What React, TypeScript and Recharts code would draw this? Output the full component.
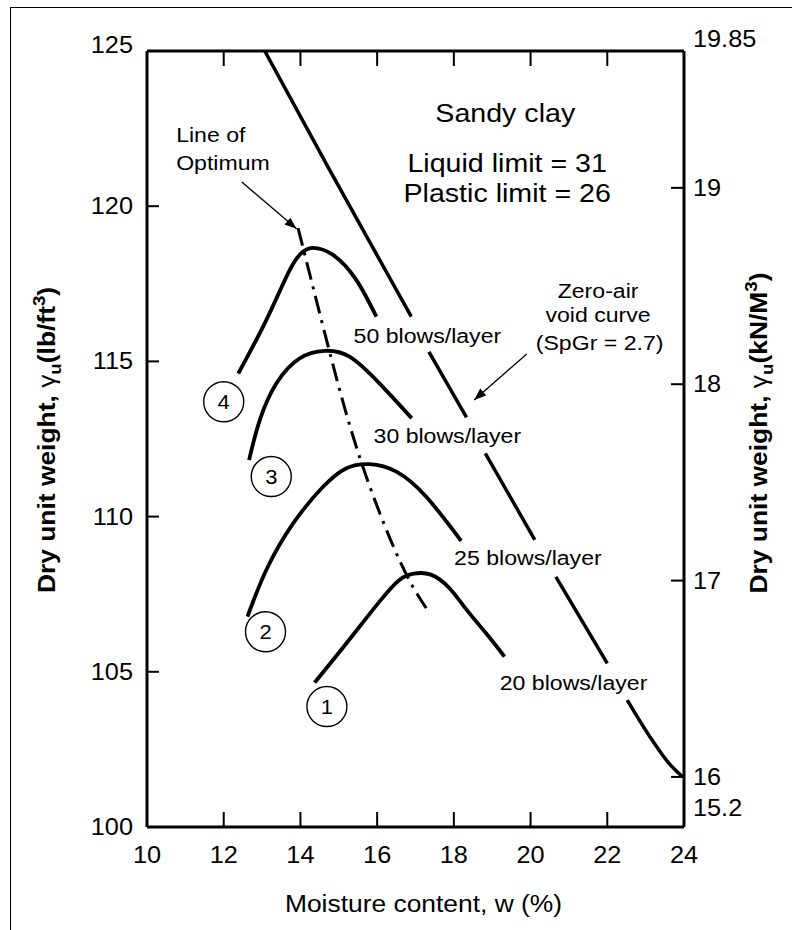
import React from 'react';
import { ComposedChart, Line, Scatter, XAxis, YAxis } from 'recharts';

const FONT = '"Liberation Sans", Arial, Helvetica, sans-serif';
const SX = 1.1;

// ---- axes ----
const xTicks = [10, 12, 14, 16, 18, 20, 22, 24];
const xInnerTicks = [12, 14, 16, 18, 20, 22];
const yTicks = [100, 105, 110, 115, 120, 125];
const KN_MIN = 15.745;
const KN_MAX = 19.697;
const knTicks = [KN_MIN, 16, 17, 18, 19, KN_MAX];
const knEndLabels = { min: '15.2', max: '19.85' };

// ---- compaction curves (w %, dry unit weight lb/ft3) ----
const curve50 = [
  { w: 12.38, lb: 114.61 }, { w: 13.11, lb: 116.33 }, { w: 13.72, lb: 117.94 },
  { w: 14.05, lb: 118.52 }, { w: 14.33, lb: 118.66 }, { w: 14.85, lb: 118.43 },
  { w: 15.46, lb: 117.62 }, { w: 15.98, lb: 116.44 },
];
const curve30 = [
  { w: 12.66, lb: 111.82 }, { w: 12.94, lb: 113.11 }, { w: 13.37, lb: 114.29 },
  { w: 13.98, lb: 115.1 }, { w: 14.63, lb: 115.34 }, { w: 15.28, lb: 115.15 },
  { w: 16.06, lb: 114.29 }, { w: 16.9, lb: 113.17 },
];
const curve25 = [
  { w: 12.62, lb: 106.78 }, { w: 13.11, lb: 108.28 }, { w: 13.81, lb: 109.78 },
  { w: 14.59, lb: 110.96 }, { w: 15.2, lb: 111.56 }, { w: 15.8, lb: 111.69 },
  { w: 16.5, lb: 111.45 }, { w: 17.28, lb: 110.64 }, { w: 18.19, lb: 109.22 },
];
const curve20 = [
  { w: 14.37, lb: 104.65 }, { w: 15.2, lb: 105.92 }, { w: 16.06, lb: 107.26 },
  { w: 16.58, lb: 107.96 }, { w: 16.95, lb: 108.16 }, { w: 17.4, lb: 108.13 },
  { w: 17.88, lb: 107.7 }, { w: 18.32, lb: 107.02 }, { w: 18.84, lb: 106.24 },
  { w: 19.32, lb: 105.49 },
];
const lineOfOptimum = [
  { w: 13.94, lb: 119.29 }, { w: 14.68, lb: 115.69 }, { w: 15.54, lb: 111.93 },
  { w: 16.58, lb: 108.6 }, { w: 17.28, lb: 107.05 },
];
const zeroAirVoid = [
  { w: 13.07, lb: 125 }, { w: 14.76, lb: 121.17 }, { w: 16.89, lb: 116.44 },
  { w: 17.1, lb: null },
  { w: 17.35, lb: 115.31 }, { w: 18.33, lb: 113.2 },
  { w: 18.6, lb: null },
  { w: 18.82, lb: 112.04 }, { w: 20.11, lb: 109.25 },
  { w: 20.4, lb: null },
  { w: 20.66, lb: 108.06 }, { w: 22.0, lb: 105.27 },
  { w: 22.3, lb: null },
  { w: 22.52, lb: 104.09 }, { w: 23.17, lb: 102.8 }, { w: 23.61, lb: 102.05 },
  { w: 23.97, lb: 101.61 },
];

// ---- annotations ----
const arrowOptimum = [{ w: 12.47, lb: 120.78 }, { w: 13.9, lb: 119.27 }];
const arrowZav = [{ w: 19.9, lb: 115.24 }, { w: 18.53, lb: 113.76 }];
const circleLabels = [
  { n: '1', w: 14.69, lb: 103.88 },
  { n: '2', w: 13.09, lb: 106.29 },
  { n: '3', w: 13.24, lb: 111.29 },
  { n: '4', w: 12.0, lb: 113.7 },
];
const soilNotes = [
  { text: 'Sandy clay', w: 19.34, lb: 122.72 },
  { text: 'Liquid limit = 31', w: 19.39, lb: 121.11 },
  { text: 'Plastic limit = 26', w: 19.39, lb: 120.15 },
];
const blowNotes = [
  { text: '50 blows/layer', w: 17.31, lb: 115.59 },
  { text: '30 blows/layer', w: 17.83, lb: 112.37 },
  { text: '25 blows/layer', w: 19.93, lb: 108.44 },
  { text: '20 blows/layer', w: 21.12, lb: 104.41 },
];
const optimumNotes = [
  { text: 'Line of', w: 10.76, lb: 122.07 },
  { text: 'Optimum', w: 10.76, lb: 121.17 },
];
const zavNotes = [
  { text: 'Zero-air', w: 21.76, lb: 117.04 },
  { text: 'void curve', w: 21.76, lb: 116.27 },
  { text: '(SpGr = 2.7)', w: 21.8, lb: 115.37 },
];

const xTitle = 'Moisture content, w (%)';

function SText(props: any) {
  const { x, y, size, anchor = 'middle', weight = 'normal', rotate = 0, children } = props;
  return (
    <text
      transform={`translate(${x},${y})${rotate ? ` rotate(${rotate})` : ''} scale(${SX},1)`}
      textAnchor={anchor}
      fontSize={size}
      fontFamily={FONT}
      fontWeight={weight}
      fill="#000"
    >
      {children}
    </text>
  );
}

const LeftTick = (p: any) => {
  const v = p.payload.value;
  const inner = v !== 100 && v !== 125;
  const dy = v === 125 ? -6 : 0;
  return (
    <g>
      {inner && <line x1={p.x} x2={p.x + 12} y1={p.y} y2={p.y} stroke="#000" strokeWidth={2} />}
      <SText x={p.x - 14} y={p.y + dy + 8} size={23} anchor="end">{v}</SText>
    </g>
  );
};

const RightTick = (p: any) => {
  const v = p.payload.value;
  if (v === KN_MAX) return <SText x={p.x + 9} y={p.y - 12 + 8} size={23} anchor="start">{knEndLabels.max}</SText>;
  if (v === KN_MIN) return <SText x={p.x + 9} y={p.y - 19.5 + 8} size={23} anchor="start">{knEndLabels.min}</SText>;
  return (
    <g>
      <line x1={p.x - 13} x2={p.x} y1={p.y} y2={p.y} stroke="#000" strokeWidth={2} />
      <SText x={p.x + 9} y={p.y + 8} size={23} anchor="start">{v}</SText>
    </g>
  );
};

const BottomTick = (p: any) => {
  const v = p.payload.value;
  const inner = v !== 10 && v !== 24;
  return (
    <g>
      {inner && <line x1={p.x} x2={p.x} y1={p.y - 15} y2={p.y} stroke="#000" strokeWidth={2} />}
      <SText x={p.x} y={p.y + 36} size={23}>{v}</SText>
    </g>
  );
};

const TopTick = (p: any) => (
  <line x1={p.x} x2={p.x} y1={p.y} y2={p.y + 15} stroke="#000" strokeWidth={2} />
);

function makeArrowDot() {
  let px = 0;
  let py = 0;
  return (p: any) => {
    if (p.index === 0) {
      px = p.cx;
      py = p.cy;
      return <g key={`d-${p.index}`} />;
    }
    const a = Math.atan2(p.cy - py, p.cx - px);
    const L = 12;
    const W = 4.5;
    const bx = p.cx - L * Math.cos(a);
    const by = p.cy - L * Math.sin(a);
    const pts = `${p.cx},${p.cy} ${bx - W * Math.sin(a)},${by + W * Math.cos(a)} ${bx + W * Math.sin(a)},${by - W * Math.cos(a)}`;
    return <polygon key={`d-${p.index}`} points={pts} fill="#000" />;
  };
}
const optArrowDot = makeArrowDot();
const zavArrowDot = makeArrowDot();

const makeNote = (size: number, anchor: string) => (p: any) => (
  <SText x={p.cx} y={p.cy} size={size} anchor={anchor}>{p.payload.text}</SText>
);

const CircleMark = (p: any) => (
  <g>
    <circle cx={p.cx} cy={p.cy} r={20} fill="#fff" stroke="#000" strokeWidth={1.4} />
    <SText x={p.cx} y={p.cy + 7} size={20}>{p.payload.n}</SText>
  </g>
);

const LeftTitle = () => (
  <SText x={55} y={440} size={24} weight="bold" rotate={-90}>
    <tspan>Dry unit weight, </tspan>
    <tspan fontWeight="normal">γ</tspan>
    <tspan dy={6} fontSize={17}>u</tspan>
    <tspan dy={-6}>(lb/ft</tspan>
    <tspan dy={-10} fontSize={17}>3</tspan>
    <tspan dy={10}>)</tspan>
  </SText>
);

const RightTitle = () => (
  <SText x={767} y={433} size={24} weight="bold" rotate={-90}>
    <tspan>Dry unit weight, </tspan>
    <tspan fontWeight="normal">γ</tspan>
    <tspan dy={6} fontSize={17}>u</tspan>
    <tspan dy={-6}>(kN/M</tspan>
    <tspan dy={-10} fontSize={17}>3</tspan>
    <tspan dy={10}>)</tspan>
  </SText>
);

const BottomTitle = (p: any) => {
  const vb = p.viewBox || { x: 147, y: 827, width: 537 };
  return <SText x={vb.x + vb.width / 2 + 8} y={vb.y + 85} size={24}>{xTitle}</SText>;
};

const axisLine = { stroke: '#000', strokeWidth: 3 };

export default function App() {
  return (
    <div style={{ position: 'fixed', left: 0, top: 0, width: 792, height: 930, overflow: 'hidden', background: '#fff' }}>
      <div
        style={{
          position: 'absolute', left: 10, top: 7, width: 900, height: 1000,
          borderLeft: '1.5px solid #000', borderTop: '1.5px solid #000',
        }}
      />
      <div style={{ position: 'absolute', left: 0, top: 0 }}>
        <ComposedChart width={792} height={930} margin={{ top: 50, right: 8, bottom: 43, left: 0 }}>
          <XAxis
            dataKey="w" type="number" domain={[10, 24]} ticks={xTicks} interval={0}
            allowDataOverflow height={60} tickSize={0} tickMargin={0}
            axisLine={axisLine} tickLine={false} tick={BottomTick} label={BottomTitle}
          />
          <XAxis
            xAxisId="top" orientation="top" dataKey="w" type="number" domain={[10, 24]}
            ticks={xInnerTicks} interval={0} allowDataOverflow height={1} tickSize={0} tickMargin={0}
            axisLine={axisLine} tickLine={false} tick={TopTick}
          />
          <YAxis
            dataKey="lb" type="number" domain={[100, 125]} ticks={yTicks} interval={0}
            allowDataOverflow width={147} tickSize={0} tickMargin={0}
            axisLine={axisLine} tickLine={false} tick={LeftTick} label={LeftTitle}
          />
          <YAxis
            yAxisId="kn" orientation="right" type="number" domain={[KN_MIN, KN_MAX]} ticks={knTicks}
            interval={0} allowDataOverflow width={100} tickSize={0} tickMargin={0}
            axisLine={axisLine} tickLine={false} tick={RightTick} label={RightTitle}
          />

          <Line data={zeroAirVoid} dataKey="lb" type="monotone" stroke="#000" strokeWidth={3.5} dot={false} activeDot={false} isAnimationActive={false} />
          <Line data={lineOfOptimum} dataKey="lb" type="natural" stroke="#000" strokeWidth={3} strokeDasharray="18 7 3 7" dot={false} activeDot={false} isAnimationActive={false} />
          <Line data={curve50} dataKey="lb" type="natural" stroke="#000" strokeWidth={3.8} dot={false} activeDot={false} isAnimationActive={false} />
          <Line data={curve30} dataKey="lb" type="natural" stroke="#000" strokeWidth={3.8} dot={false} activeDot={false} isAnimationActive={false} />
          <Line data={curve25} dataKey="lb" type="natural" stroke="#000" strokeWidth={3.8} dot={false} activeDot={false} isAnimationActive={false} />
          <Line data={curve20} dataKey="lb" type="natural" stroke="#000" strokeWidth={3.8} dot={false} activeDot={false} isAnimationActive={false} />
          <Line data={arrowOptimum} dataKey="lb" type="linear" stroke="#000" strokeWidth={1.3} dot={optArrowDot} activeDot={false} isAnimationActive={false} />
          <Line data={arrowZav} dataKey="lb" type="linear" stroke="#000" strokeWidth={1.3} dot={zavArrowDot} activeDot={false} isAnimationActive={false} />

          <Scatter data={soilNotes} dataKey="lb" shape={makeNote(26, 'middle')} isAnimationActive={false} />
          <Scatter data={blowNotes} dataKey="lb" shape={makeNote(21, 'middle')} isAnimationActive={false} />
          <Scatter data={optimumNotes} dataKey="lb" shape={makeNote(21, 'start')} isAnimationActive={false} />
          <Scatter data={zavNotes} dataKey="lb" shape={makeNote(21, 'middle')} isAnimationActive={false} />
          <Scatter data={circleLabels} dataKey="lb" shape={CircleMark} isAnimationActive={false} />
        </ComposedChart>
      </div>
    </div>
  );
}
